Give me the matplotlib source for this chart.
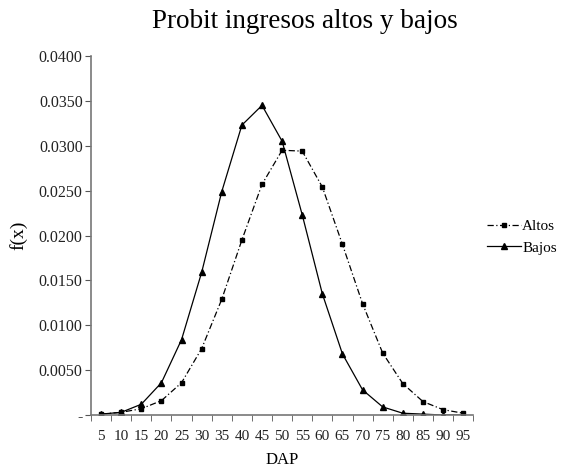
import numpy as np
import matplotlib.pyplot as plt

# DAP classes (categorical axis)
dap = [5, 10, 15, 20, 25, 30, 35, 40, 45, 50, 55, 60, 65, 70, 75, 80, 85, 90, 95]

altos = [0.0001, 0.0003, 0.0007, 0.0016, 0.0036, 0.0074, 0.0129, 0.0195, 0.0257,
         0.0295, 0.0294, 0.0254, 0.0190, 0.0124, 0.0069, 0.0035, 0.0015, 0.0006, 0.0002]
bajos = [0.0001, 0.0003, 0.0012, 0.0036, 0.0084, 0.0159, 0.0249, 0.0323, 0.0345,
         0.0305, 0.0223, 0.0135, 0.0068, 0.0028, 0.0009, 0.0002, 0.0001, 0.0000, 0.0000]

plt.rcParams["font.family"] = ["Liberation Serif", "DejaVu Serif"]

fig = plt.figure(figsize=(5.62, 4.73), dpi=100)
ax = fig.add_axes([0.162, 0.1226, 0.680, 0.759])

x = np.arange(len(dap))
ax.plot(x, altos, color="black", lw=0.9, ls=(0, (5, 2, 1, 2)), marker="s", ms=3.5,
        label="Altos")
ax.plot(x, bajos, color="black", lw=0.9, ls="-", marker="^", ms=5, label="Bajos")

ax.set_xlim(-0.5, len(dap) - 0.5)
ax.set_ylim(0, 0.04)
ax.set_xticks(x)
ax.set_xticklabels([str(d) for d in dap], fontsize=11, color="#222222")
ax.set_xticks(np.arange(-0.5, len(dap), 1), minor=True)
ax.tick_params(axis="x", which="major", length=0, pad=11)
ax.tick_params(axis="x", which="minor", length=4, color="#555555")

yt = np.arange(0, 0.0401, 0.005)
ax.set_yticks(yt)
ax.set_yticklabels(["-"] + [f"{v:.4f}" for v in yt[1:]], fontsize=11.5, color="#222222")
ax.tick_params(axis="y", length=4, color="#555555", pad=2)

for s in ["top", "right"]:
    ax.spines[s].set_visible(False)
for s in ["left", "bottom"]:
    ax.spines[s].set_color("#777777")
    ax.spines[s].set_linewidth(1.2)

ax.set_ylabel("f(x)", fontsize=14, labelpad=8)
ax.set_xlabel("DAP", fontsize=12, labelpad=6)
fig.suptitle("Probit ingresos altos y bajos", fontsize=19.5, x=0.543, y=0.982)

ax.legend(loc="center left", bbox_to_anchor=(1.0, 0.495), frameon=False, fontsize=11,
          handlelength=2.2, handletextpad=0.1, labelspacing=0.5)

plt.savefig("out.png", dpi=100)
